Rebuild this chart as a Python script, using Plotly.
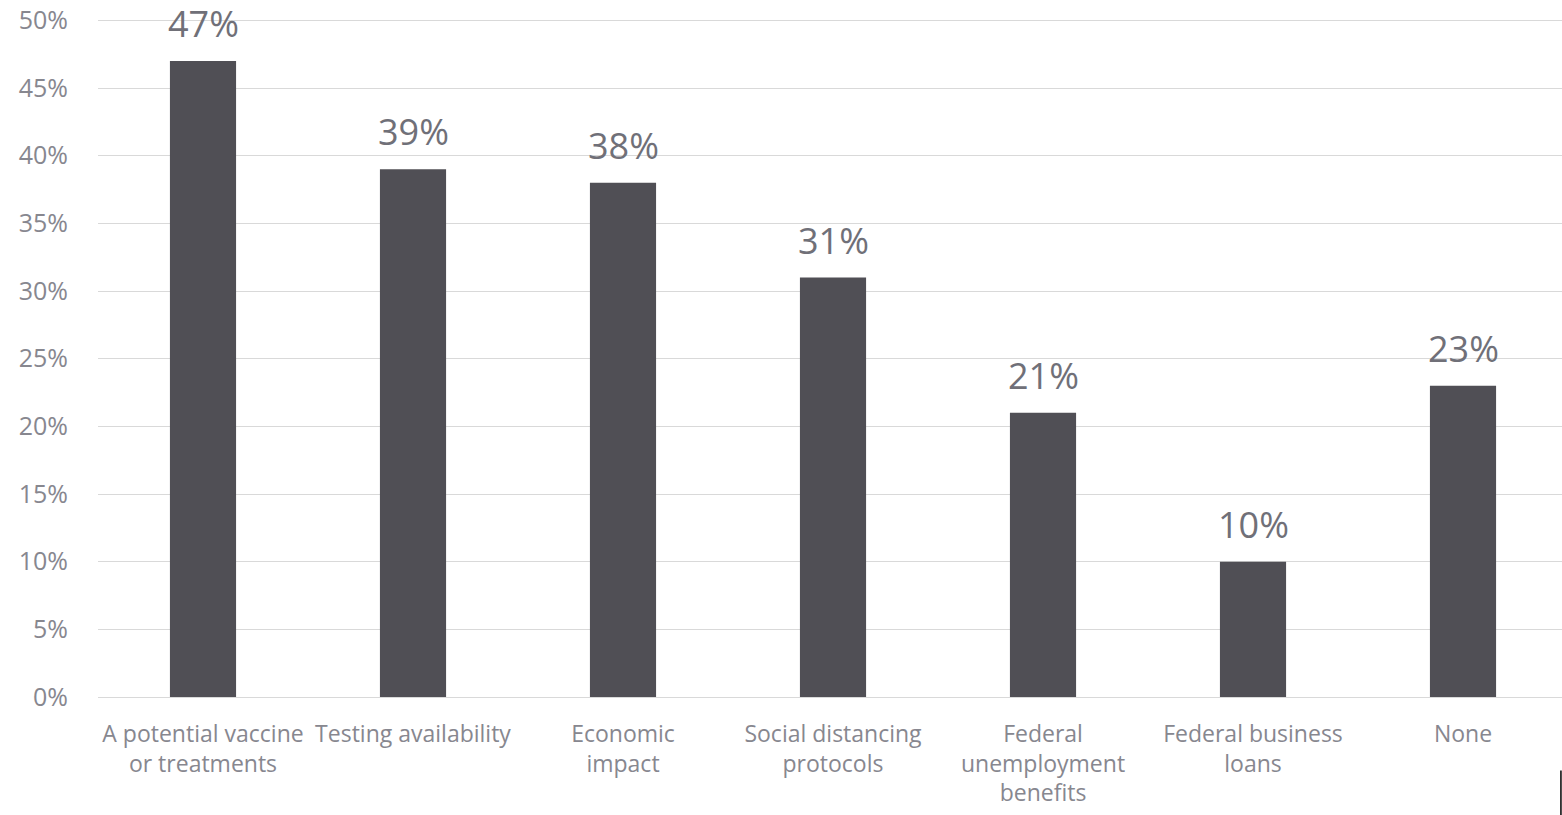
import plotly.graph_objects as go

categories = [
    "A potential vaccine<br>or treatments",
    "Testing availability",
    "Economic<br>impact",
    "Social distancing<br>protocols",
    "Federal<br>unemployment<br>benefits",
    "Federal business<br>loans",
    "None",
]
values = [47, 39, 38, 31, 21, 10, 23]
labels = [f"{v}%" for v in values]
y_ticks = list(range(0, 55, 5))

fig = go.Figure()
fig.add_trace(go.Bar(
    x=categories,
    y=values,
    marker=dict(color="#504f55", line=dict(width=0)),
    hoverinfo="skip",
))
for c, v, t in zip(categories, values, labels):
    fig.add_annotation(
        x=c, y=v, text=t, showarrow=False,
        yanchor="bottom", yshift=11,
        font=dict(family="Open Sans", size=36, color="#707078"),
    )

fig.update_layout(
    width=1568,
    height=815,
    margin=dict(l=98, r=0, t=17, b=118),
    paper_bgcolor="white",
    plot_bgcolor="white",
    bargap=0.685,
    showlegend=False,
    font=dict(family="Open Sans", color="#87878f"),
)
fig.update_yaxes(
    range=[0, 50.25],
    tickvals=y_ticks,
    ticktext=[f"{t}%" for t in y_ticks],
    showgrid=True,
    gridcolor="#d9d9d9",
    gridwidth=1,
    zeroline=False,
    showline=False,
    tickfont=dict(family="Open Sans", size=25, color="#87878f"),
    ticklabelstandoff=29,
    ticklabeloverflow="allow",
)
fig.update_xaxes(
    showgrid=False,
    showline=True,
    linecolor="#d9d9d9",
    linewidth=1,
    tickfont=dict(family="Open Sans", size=23, color="#87878f"),
    ticklabelstandoff=16,
    tickangle=0,
)
fig.add_shape(
    type="line", xref="paper", yref="paper",
    x0=0.9952, x1=0.9952, y0=-0.175, y1=-0.108,
    line=dict(color="#000000", width=1.5),
)

fig.write_html(
    "out.html",
    config={"displayModeBar": False},
    post_script="document.body.style.margin='0';document.body.style.overflow='hidden';",
)
